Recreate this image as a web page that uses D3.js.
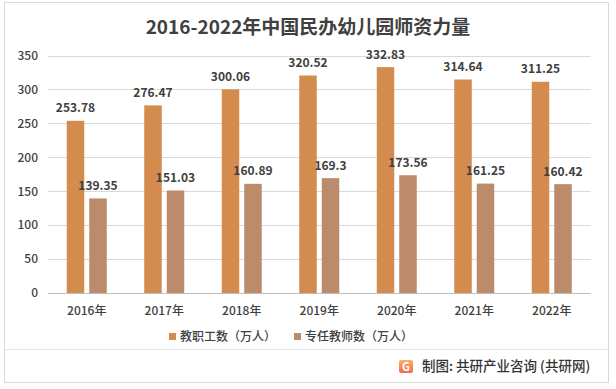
<!DOCTYPE html>
<html><head><meta charset="utf-8">
<script src="https://cdn.jsdelivr.net/npm/d3@7"></script>
<style>
html,body{margin:0;padding:0;background:#fff;}
svg{display:block;font-family:"Noto Sans CJK SC","Noto Sans",sans-serif;}
</style></head>
<body><svg id="c" width="616" height="389"></svg>
<script>
const title = "2016-2022年中国民办幼儿园师资力量";
const categories = ["2016年","2017年","2018年","2019年","2020年","2021年","2022年"];
const staff = [253.78,276.47,300.06,320.52,332.83,314.64,311.25];
const teachers = [139.35,151.03,160.89,169.3,173.56,161.25,160.42];
const seriesNames = ["教职工数（万人）","专任教师数（万人）"];
const seriesColors = ["#D38B4E","#BC8B6B"];
const yTicks = [0,50,100,150,200,250,300,350];
const source = "制图: 共研产业咨询 (共研网)";

const svg = d3.select("#c");
svg.append("rect").attr("x",4.5).attr("y",2.5).attr("width",604).attr("height",380)
  .attr("fill","#fff").attr("stroke","#d9d9d9").attr("stroke-width",1);

svg.append("text").attr("x",308).attr("y",34).attr("text-anchor","middle")
  .attr("font-size",19).attr("font-weight",700).attr("fill","#404040").text(title);

const x = d3.scaleBand().domain(categories).range([48,590.5]);
const y = d3.scaleLinear().domain([0,350]).range([293,55.5]);

svg.append("g").selectAll("line").data(yTicks).join("line")
  .attr("x1",48).attr("x2",590.5).attr("y1",d=>Math.round(y(d))+0.5).attr("y2",d=>Math.round(y(d))+0.5)
  .attr("stroke",d=>d===0?"#bfbfbf":"#d9d9d9").attr("stroke-width",1);

const yAxis = svg.append("g").attr("transform","translate(38,0)")
  .call(d3.axisLeft(y).tickValues(yTicks).tickSize(0).tickPadding(0));
yAxis.select(".domain").remove();
yAxis.selectAll("text").attr("font-size",12).attr("fill","#404040").attr("font-family","'Noto Sans CJK SC',sans-serif").attr("font-weight",500);

const xAxis = svg.append("g").attr("transform","translate(0,293)")
  .call(d3.axisBottom(x).tickSize(0).tickPadding(13));
xAxis.select(".domain").remove();
xAxis.selectAll("text").attr("font-size",12).attr("fill","#404040").attr("font-family","'Noto Sans CJK SC',sans-serif").attr("font-weight",500);

const bw = 17.5, gap = 5;
const series = [staff, teachers];
series.forEach((vals,si)=>{
  const off = si===0 ? -gap/2-bw : gap/2;
  const g = svg.append("g");
  g.selectAll("rect").data(vals).join("rect")
    .attr("x",(d,i)=>x(categories[i])+x.bandwidth()/2+off)
    .attr("y",d=>y(d)).attr("width",bw).attr("height",d=>y(0)-y(d))
    .attr("fill",seriesColors[si]);
  g.selectAll("text").data(vals).join("text")
    .attr("x",(d,i)=>x(categories[i])+x.bandwidth()/2+off+bw/2)
    .attr("y",d=>y(d)-8.5).attr("text-anchor","middle")
    .attr("font-size",12).attr("font-weight",700).attr("fill","#404040")
    .attr("font-family","'Noto Sans CJK SC',sans-serif")
    .text(d=>d);
});

const legX = [169, 294];
seriesNames.forEach((n,i)=>{
  svg.append("rect").attr("x",legX[i]).attr("y",333).attr("width",7).attr("height",7).attr("fill",seriesColors[i]);
  svg.append("text").attr("x",legX[i]+11).attr("y",341).attr("font-size",12).attr("fill","#404040").attr("font-weight",500).text(n);
});

svg.append("line").attr("x1",5).attr("x2",608).attr("y1",349.5).attr("y2",349.5).attr("stroke","#e6e6e6");

const defs = svg.append("defs");
const lg = defs.append("linearGradient").attr("id","lg").attr("x1",0).attr("y1",0).attr("x2",0).attr("y2",1);
lg.append("stop").attr("offset","0%").attr("stop-color","#F8B26A");
lg.append("stop").attr("offset","100%").attr("stop-color","#EE6B4D");
svg.append("rect").attr("x",399).attr("y",360).attr("width",14).attr("height",13).attr("rx",2).attr("fill","url(#lg)");
svg.append("text").attr("x",406).attr("y",371).attr("text-anchor","middle").attr("font-size",11).attr("font-weight",700).attr("fill","#fff").text("G");

svg.append("text").attr("x",422).attr("y",371).attr("font-size",13.5).attr("fill","#333").attr("font-weight",500).text(source);
</script></body></html>
